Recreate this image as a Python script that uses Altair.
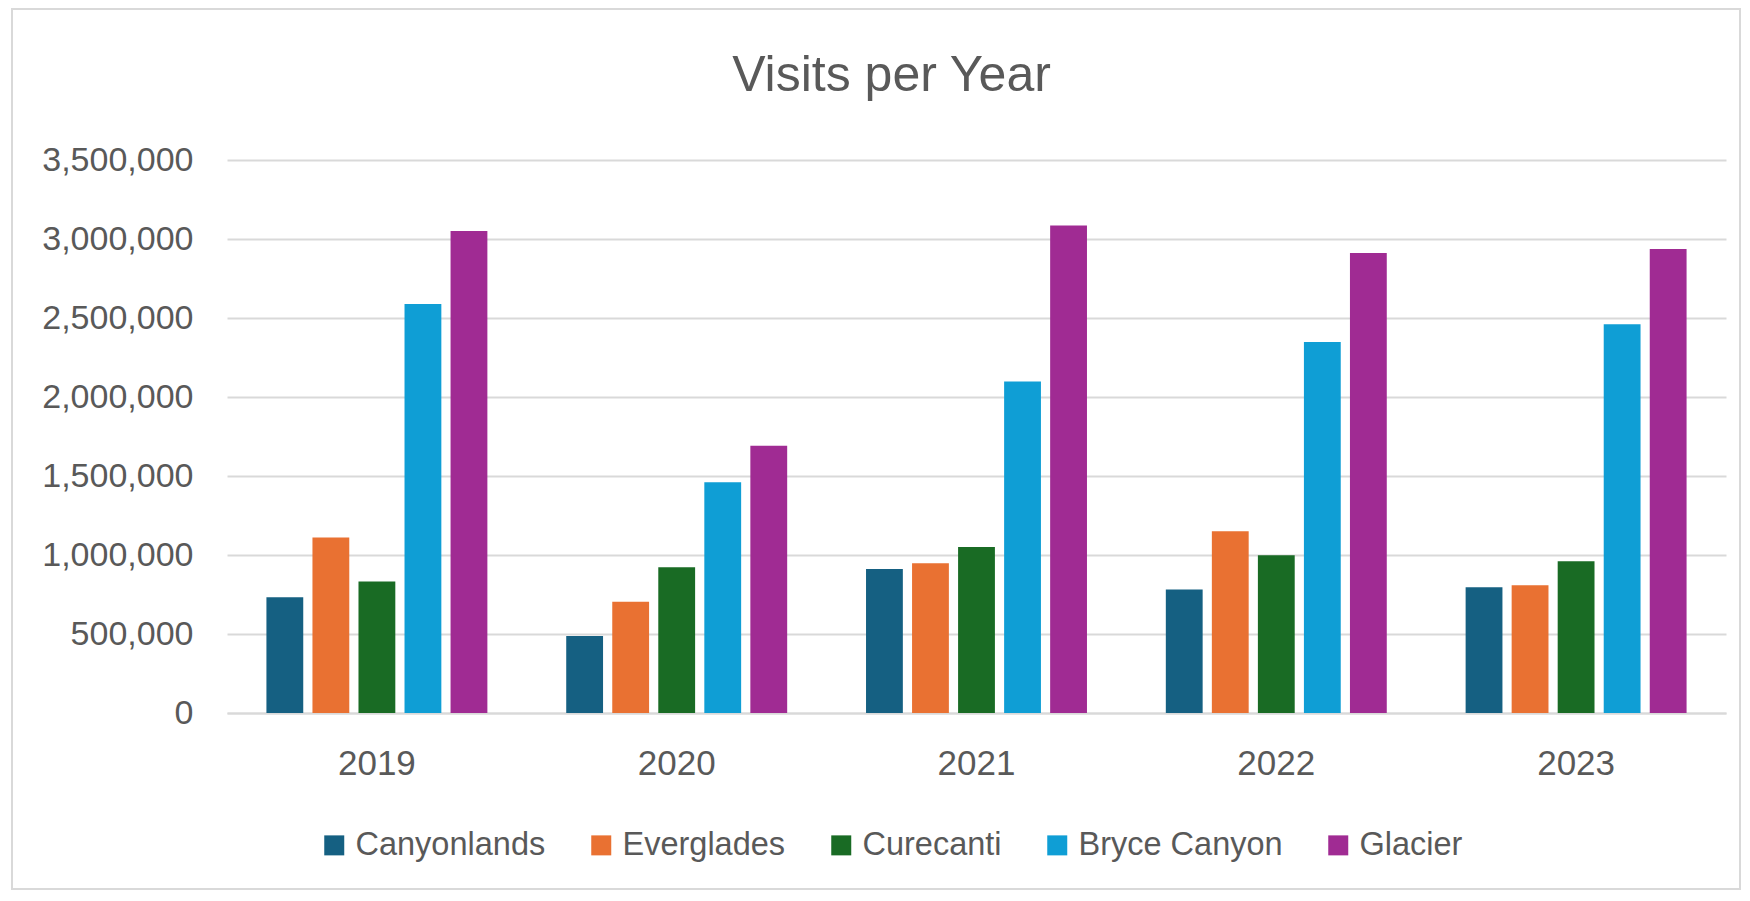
import altair as alt
import pandas as pd

years = ["2019", "2020", "2021", "2022", "2023"]
parks = ["Canyonlands", "Everglades", "Curecanti", "Bryce Canyon", "Glacier"]
colors = ["#156082", "#E97132", "#196B24", "#0F9ED5", "#A02B93"]

canyonlands = [732000, 487000, 911000, 781000, 796000]
everglades = [1110000, 704000, 947000, 1150000, 809000]
curecanti = [832000, 923000, 1050000, 998000, 960000]
bryce_canyon = [2588000, 1460000, 2098000, 2348000, 2460000]
glacier = [3050000, 1692000, 3085000, 2912000, 2936000]

y_ticks = [0, 500000, 1000000, 1500000, 2000000, 2500000, 3000000, 3500000]

series = [canyonlands, everglades, curecanti, bryce_canyon, glacier]
rows = []
for park, vals in zip(parks, series):
    for yr, v in zip(years, vals):
        rows.append({"Year": yr, "Park": park, "Visits": v})
df = pd.DataFrame(rows)

FONT = "Liberation Sans"
GRAY = "#595959"

bars = alt.Chart(df).mark_bar().encode(
    x=alt.X("Year:N", sort=years,
            scale=alt.Scale(paddingInner=0.263, paddingOuter=0.1315),
            axis=alt.Axis(title=None, labelAngle=0, labelFontSize=35, labelColor=GRAY,
                          labelFont=FONT, labelPadding=33, ticks=False,
                          domainColor="#d9d9d9", domainWidth=2, grid=False)),
    xOffset=alt.XOffset("Park:N", sort=parks,
                        scale=alt.Scale(paddingInner=0.2, paddingOuter=0)),
    y=alt.Y("Visits:Q", scale=alt.Scale(domain=[0, 3500000], nice=False),
            axis=alt.Axis(title=None, values=y_ticks, format=",.0f", labelFontSize=34,
                          labelColor=GRAY, labelFont=FONT, labelPadding=34,
                          ticks=False, domain=False, gridColor="#d9d9d9", gridWidth=2)),
    color=alt.Color("Park:N", sort=parks,
                    scale=alt.Scale(domain=parks, range=colors),
                    legend=alt.Legend(orient="none", legendX=91, legendY=669,
                                      direction="horizontal", title=None,
                                      symbolType="square", symbolSize=400,
                                      symbolStrokeWidth=0, symbolOpacity=1,
                                      labelFontSize=32.5, labelColor=GRAY, labelFont=FONT,
                                      labelOffset=5, columnPadding=39, padding=0,
                                      labelLimit=500)),
)

border = alt.Chart(pd.DataFrame({"a": [0]})).mark_rect(
    filled=False, stroke="#d9d9d9", strokeWidth=2
).encode(
    x=alt.value(-215), x2=alt.value(1513), y=alt.value(-151), y2=alt.value(729)
)

chart = alt.layer(border, bars).properties(
    width=1499,
    height=553,
    background="white",
    autosize=alt.AutoSizeParams(type="none"),
    padding={"left": 219, "top": 152, "right": 15, "bottom": 178},
    title=alt.TitleParams("Visits per Year", fontSize=50, font=FONT, color=GRAY,
                          fontWeight="normal", anchor="middle", frame="group",
                          dx=-85, dy=97),
).configure_view(stroke=None)

chart.save("out.html", embed_options={"renderer": "svg", "actions": False})
